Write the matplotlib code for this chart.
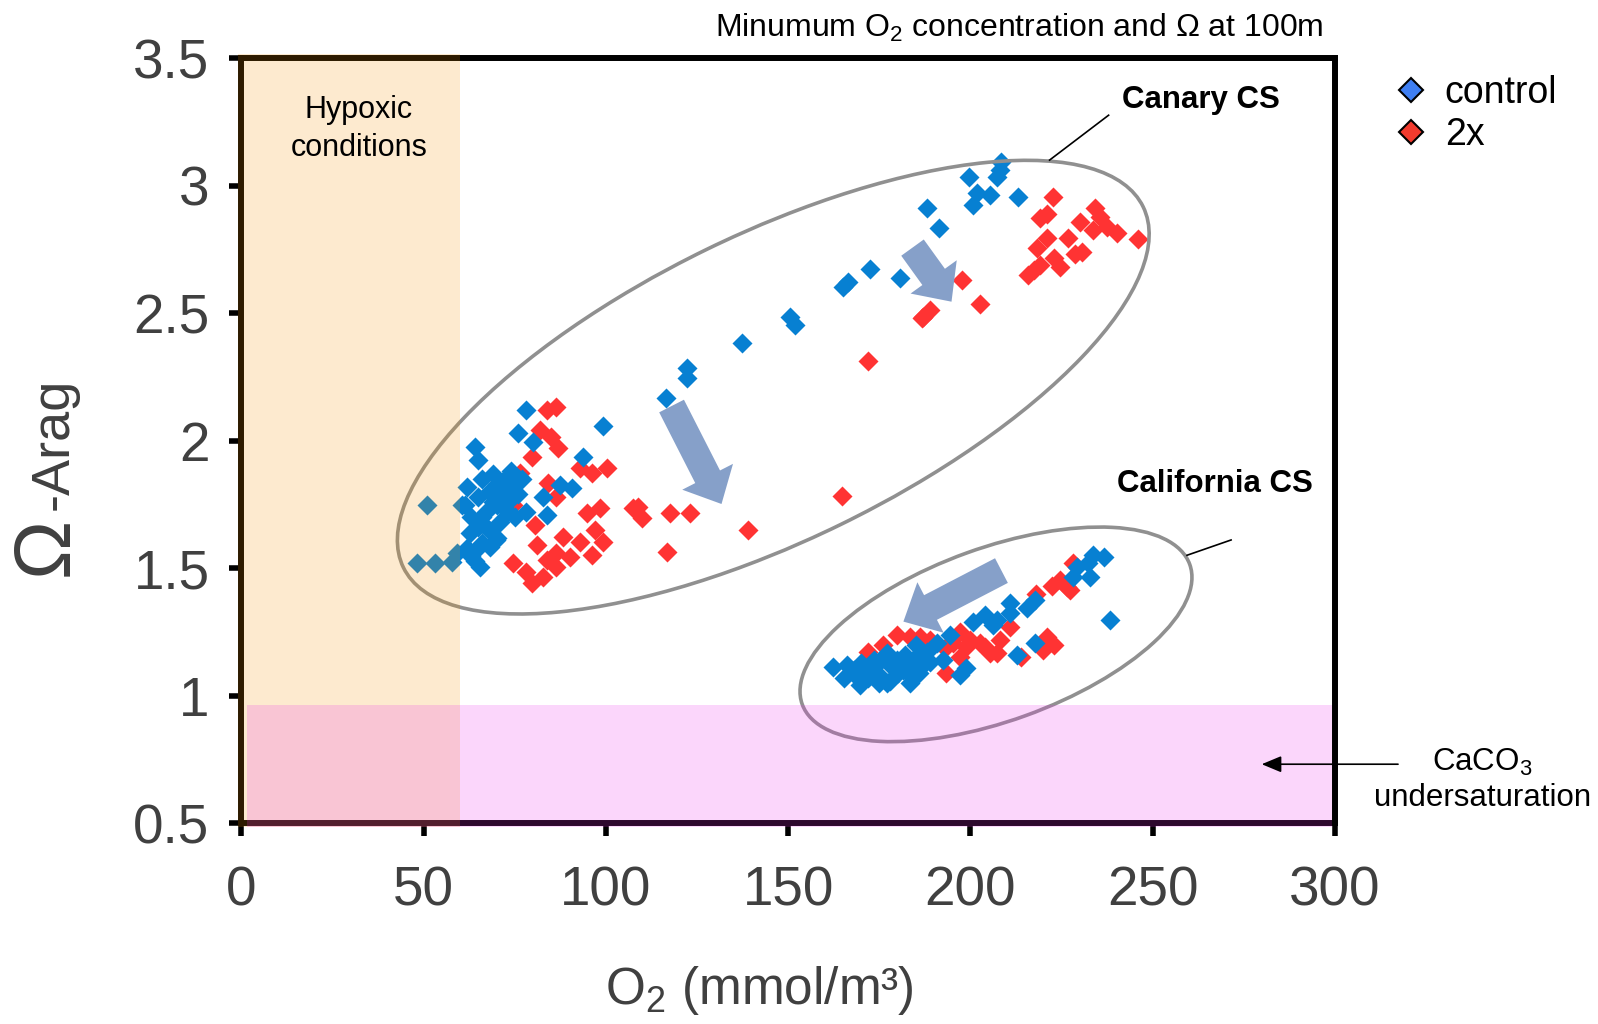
import matplotlib
matplotlib.use("Agg")
import matplotlib.pyplot as plt
from matplotlib.patches import Ellipse, Rectangle
from matplotlib.transforms import ScaledTranslation
from matplotlib.lines import Line2D

plt.rcParams['font.family'] = ['Liberation Sans', 'DejaVu Sans']
plt.rcParams['mathtext.fontset'] = 'custom'
plt.rcParams['mathtext.rm'] = 'Liberation Sans'
plt.rcParams['mathtext.it'] = 'Liberation Sans:italic'

# Canary current system, minimum O2 (mmol/m3) and aragonite saturation at 100 m
canary_ctrl_o2 = [48.1, 50.8, 53.1, 57.7, 59.0, 60.4,
                  61.8, 61.3, 62.7, 64.4, 65.4, 68.2, 69.9, 64.1, 64.9, 63.0, 65.0, 66.0,
                  67.0, 68.0, 69.0, 70.0, 71.0, 72.0, 73.0, 74.0, 75.0, 76.0, 67.0, 70.0,
                  72.0, 66.0, 63.0, 74.0, 76.0, 78.0,
                  66.0, 68.0, 70.0, 71.0, 73.0, 69.0, 74.0, 77.0, 65.0, 62.0, 64.0,
                  78.2, 75.9, 80.1, 99.3, 93.8, 87.4, 90.6, 82.8, 83.7,
                  116.6, 122.1, 122.1, 137.2, 150.5, 151.8, 165.0, 166.5, 172.4, 180.7,
                  188.0, 191.5, 199.7, 200.8, 201.7, 205.3, 207.2, 208.1, 208.5, 213.1]
canary_ctrl_omega = [1.52, 1.748, 1.52, 1.526, 1.559, 1.748,
                     1.82, 1.748, 1.637, 1.572, 1.506, 1.585, 1.611, 1.977, 1.925, 1.70, 1.78, 1.85,
                     1.72, 1.80, 1.87, 1.75, 1.68, 1.82, 1.86, 1.77, 1.70, 1.84, 1.66, 1.83,
                     1.74, 1.60, 1.55, 1.88, 1.79, 1.72,
                     1.70, 1.65, 1.62, 1.78, 1.72, 1.76, 1.82, 1.85, 1.66, 1.58, 1.53,
                     2.121, 2.029, 1.996, 2.058, 1.937, 1.826, 1.814, 1.781, 1.709,
                     2.166, 2.284, 2.245, 2.382, 2.486, 2.454, 2.604, 2.623, 2.672, 2.637,
                     2.911, 2.833, 3.035, 2.924, 2.97, 2.963, 3.035, 3.06, 3.094, 2.957]

canary_2x_o2 = [83.7, 86.4, 81.8, 85.0, 86.9, 79.6, 92.9, 96.1, 100.2, 84.2, 86.4, 74.6,
                76.4, 94.7, 98.4, 107.5, 80.5, 81.0, 88.3, 86.4, 83.7, 90.1, 97.0, 99.3,
                96.1, 74.6, 78.2, 79.6, 82.8, 86.4, 92.9,
                108.9, 109.8, 117.6, 123.0, 116.8, 139.0, 164.7, 172.0,
                186.6, 188.9, 187.0, 197.6, 202.6,
                222.7, 219.1, 221.0, 230.0, 234.2, 235.5, 237.4, 240.1, 246.0, 233.7,
                226.8, 220.9, 218.2, 230.5, 222.8, 219.1, 215.9, 217.3, 224.5, 228.7]
canary_2x_omega = [2.121, 2.134, 2.042, 2.016, 1.97, 1.937, 1.892, 1.872, 1.892, 1.833, 1.781, 1.748,
                   1.873, 1.716, 1.735, 1.735, 1.67, 1.591, 1.624, 1.559, 1.533, 1.546, 1.65, 1.604,
                   1.552, 1.52, 1.487, 1.441, 1.467, 1.506, 1.604,
                   1.742, 1.696, 1.716, 1.718, 1.565, 1.65, 1.783, 2.314,
                   2.48, 2.513, 2.486, 2.63, 2.536,
                   2.957, 2.872, 2.89, 2.859, 2.911, 2.878, 2.839, 2.813, 2.79, 2.826,
                   2.794, 2.794, 2.754, 2.741, 2.715, 2.689, 2.65, 2.669, 2.68, 2.73]

# California current system
calif_ctrl_o2 = [162.4, 165.2, 168.8, 169.7, 173.4, 177.0, 179.8, 181.6, 186.2, 188.9,
                 190.7, 194.4, 192.5, 198.9, 197.1, 200.8, 204.0, 206.3, 183.4, 177.0,
                 236.5, 233.7, 232.3, 229.2, 232.9, 228.2, 238.3, 217.7, 215.4, 210.8,
                 210.8, 207.2, 217.7, 212.7,
                 171.0, 175.0, 178.0, 180.0, 184.0, 186.0, 174.0, 182.0, 176.0, 166.0,
                 172.0, 185.0, 188.0,
                 168.0, 170.0, 174.0, 179.0, 181.0, 183.0, 187.0, 178.0, 175.0]
calif_ctrl_omega = [1.114, 1.069, 1.075, 1.043, 1.141, 1.167, 1.141, 1.101, 1.167, 1.134,
                    1.206, 1.239, 1.141, 1.108, 1.082, 1.291, 1.317, 1.278, 1.05, 1.049,
                    1.546, 1.552, 1.52, 1.506, 1.467, 1.467, 1.297, 1.376, 1.343, 1.363,
                    1.324, 1.297, 1.206, 1.16,
                    1.10, 1.08, 1.12, 1.09, 1.13, 1.09, 1.12, 1.16, 1.15, 1.12,
                    1.07, 1.20, 1.17,
                    1.10, 1.13, 1.09, 1.11, 1.13, 1.09, 1.12, 1.06, 1.05]

calif_2x_o2 = [179.8, 183.4, 186.2, 197.1, 193.0, 195.3, 198.9, 202.6, 205.3, 193.4,
               197.1, 222.3, 224.6, 226.4, 228.2, 221.0, 222.8, 220.0, 208.1, 207.2,
               214.0, 210.8, 227.3, 218.0, 200.0, 204.0, 189.0, 176.0, 172.0]
calif_2x_omega = [1.239, 1.232, 1.232, 1.251, 1.186, 1.206, 1.193, 1.206, 1.167, 1.089,
                  1.154, 1.431, 1.454, 1.427, 1.52, 1.232, 1.199, 1.18, 1.219, 1.167,
                  1.154, 1.271, 1.415, 1.40, 1.22, 1.19, 1.22, 1.20, 1.17]

x_ticks = [0, 50, 100, 150, 200, 250, 300]
x_ticklabels = ['0', '50', '100', '150', '200', '250', '300']
y_ticks = [0.5, 1, 1.5, 2, 2.5, 3, 3.5]
y_ticklabels = ['0.5', '1', '1.5', '2', '2.5', '3', '3.5']

BLUE = '#0780D2'
RED = '#FF3333'
ARROW = '#86A0C9'
LABEL_GRAY = '#404040'

fig = plt.figure(figsize=(15.98, 10.24), dpi=100)
ax = fig.add_axes([0.1511, 0.1959, 0.6843, 0.7474])
ax.set_xlim(0, 300)
ax.set_ylim(0.5, 3.5)

ax.scatter(canary_2x_o2, canary_2x_omega, marker='D', s=104, color=RED, linewidths=0, zorder=1)
ax.scatter(calif_2x_o2, calif_2x_omega, marker='D', s=104, color=RED, linewidths=0, zorder=1)
ax.scatter(canary_ctrl_o2, canary_ctrl_omega, marker='D', s=104, color=BLUE, linewidths=0, zorder=1.1)
ax.scatter(calif_ctrl_o2, calif_ctrl_omega, marker='D', s=104, color=BLUE, linewidths=0, zorder=1.1)

# shaded regions are semi-transparent overlays drawn above the points and frame
ax.add_patch(Rectangle((-1, 0.485), 61, 3.03, facecolor=(245/255, 148/255, 0), alpha=0.19,
                       linewidth=0, zorder=3, clip_on=False))
ax.add_patch(Rectangle((1.5, 0.485), 297.8, 0.48, facecolor=(235/255, 50/255, 235/255), alpha=0.2,
                       linewidth=0, zorder=3, clip_on=False))

for side in ['left', 'right', 'top', 'bottom']:
    ax.spines[side].set_linewidth(4.3)
ax.spines['right'].set_zorder(4)

ax.set_xticks(x_ticks)
ax.set_xticklabels(x_ticklabels)
ax.set_yticks(y_ticks)
ax.set_yticklabels(y_ticklabels)
ax.tick_params(direction='out', length=9, width=4, color='black', labelcolor=LABEL_GRAY, labelsize=39.5)
ax.tick_params(axis='x', pad=21)
ax.tick_params(axis='y', pad=14)


def ring(cx, cy, w_in, h_in, angle):
    # ellipse sized in inches so its shape does not depend on the axis scales
    tr = fig.dpi_scale_trans + ScaledTranslation(cx, cy, ax.transData)
    ax.add_patch(Ellipse((0, 0), w_in, h_in, angle=angle, transform=tr, fill=False,
                         edgecolor='#909090', linewidth=2.6, zorder=2))


ring(145.9, 2.21, 8.23, 3.06, 26)
ring(207.0, 1.241, 4.12, 1.73, 19.85)

fat = dict(arrowstyle='simple,head_length=1.1,head_width=2.05,tail_width=1.0',
           color=ARROW, shrinkA=0, shrinkB=0, mutation_scale=20, linewidth=0)
ax.annotate('', xy=(131.7, 1.752), xytext=(118.0, 2.136), arrowprops=fat, zorder=2)
ax.annotate('', xy=(194.8, 2.545), xytext=(184.1, 2.757), arrowprops=fat, zorder=2)
ax.annotate('', xy=(181.6, 1.291), xytext=(208.5, 1.491), arrowprops=fat, zorder=2)

# region labels
ax.text(263.1, 3.336, 'Canary CS', fontsize=22.5, fontweight='bold', ha='center', va='center')
ax.plot([237.9, 221.7], [3.276, 3.10], color='black', linewidth=1.2, zorder=2)
ax.text(267.0, 1.83, 'California CS', fontsize=22.5, fontweight='bold', ha='center', va='center',
        clip_on=False)
ax.plot([271.5, 259.4], [1.611, 1.551], color='black', linewidth=1.2, zorder=2, clip_on=False)

ax.text(32.2, 3.222, 'Hypoxic\nconditions', fontsize=22, ha='center', va='center',
        linespacing=1.32, zorder=4)

ax.text(340.5, 0.67, 'CaCO$_\\mathrm{3}$\nundersaturation', fontsize=22.5, ha='center',
        va='center', linespacing=1.25, clip_on=False)
ax.annotate('', xy=(279.9, 0.732), xytext=(317.3, 0.732), annotation_clip=False,
            arrowprops=dict(arrowstyle='-|>,head_length=0.6,head_width=0.25', color='black',
                            linewidth=1.2, shrinkA=0, shrinkB=0, mutation_scale=20), zorder=5)

fig.text(0.6377, 0.9725, 'Minumum O$_\\mathrm{2}$ concentration and \u03a9 at 100m', fontsize=23,
         ha='center', va='center')

fig.text(0.475, 0.0195, 'O$_\\mathrm{2}$ (mmol/m\u00b3)', fontsize=37, color=LABEL_GRAY,
         ha='center', va='baseline')
fig.text(0.0425, 0.4375, '\u03a9', fontsize=57, color=LABEL_GRAY, rotation=90,
         rotation_mode='anchor', ha='left', va='baseline')
fig.text(0.0425, 0.502, '-Arag', fontsize=39, color=LABEL_GRAY, rotation=90,
         rotation_mode='anchor', ha='left', va='baseline')

handles = [Line2D([], [], marker='D', linestyle='none', markersize=12, markerfacecolor='#3F7FF2',
                  markeredgecolor='black', markeredgewidth=1.5),
           Line2D([], [], marker='D', linestyle='none', markersize=12, markerfacecolor='#F23B2E',
                  markeredgecolor='black', markeredgewidth=1.5)]
ax.legend(handles, ['control', '2x'], loc='upper left', bbox_to_anchor=(1396 / 1598, 0.9265),
          bbox_transform=fig.transFigure, frameon=False, fontsize=27, handlelength=0.8,
          handletextpad=0.5, labelspacing=0.16, borderpad=0, borderaxespad=0)

fig.savefig('out.png', dpi=100)
